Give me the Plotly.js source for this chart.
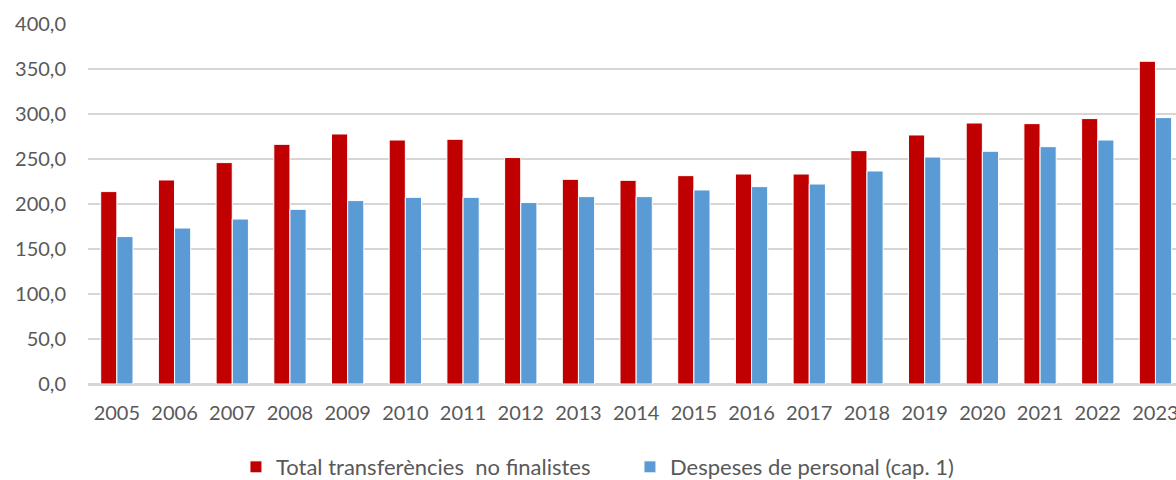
<!DOCTYPE html>
<html>
<head>
<meta charset="utf-8">
<script src="https://cdn.plot.ly/plotly-3.0.1.min.js"></script>
<style>html,body{margin:0;padding:0;background:#fff;}#chart{width:1176px;height:480px;}</style>
</head>
<body>
<div id="chart"></div>
<script>
const years = ['2005','2006','2007','2008','2009','2010','2011','2012','2013','2014','2015','2016','2017','2018','2019','2020','2021','2022','2023'];
const transferencies = [213.8, 226.7, 246.0, 266.3, 277.8, 271.1, 271.9, 251.6, 227.4, 226.3, 231.5, 233.3, 233.3, 259.3, 276.7, 290.0, 289.3, 294.9, 358.6];
const personal = [163.8, 173.3, 183.3, 194.1, 203.8, 207.4, 207.4, 201.6, 208.2, 208.2, 215.6, 219.3, 222.2, 236.7, 252.2, 258.6, 263.7, 271.1, 296.0];
const seriesNames = ['Total transferències  no finalistes', 'Despeses de personal (cap. 1)'];
const yTicks = [0, 50, 100, 150, 200, 250, 300, 350, 400];

const font = 'Lato, Open Sans, sans-serif';
const textColor = '#595959';

const data = [
  {type: 'bar', x: years, y: transferencies, name: seriesNames[0],
   marker: {color: '#C00000', line: {color: '#ffffff', width: 1}}, hoverinfo: 'x+y'},
  {type: 'bar', x: years, y: personal, name: seriesNames[1],
   marker: {color: '#5B9BD5', line: {color: '#ffffff', width: 1}}, hoverinfo: 'x+y'}
];

const layout = {
  width: 1176, height: 480,
  margin: {l: 88, r: 0, t: 23.5, b: 96.3, pad: 0, autoexpand: false},
  paper_bgcolor: '#ffffff', plot_bgcolor: '#ffffff',
  separators: ',.',
  barmode: 'group', bargap: 0.44, bargroupgap: 0,
  font: {family: font, color: textColor, size: 20},
  showlegend: true,
  legend: {orientation: 'h', x: 0.136, xanchor: 'left', xref: 'paper',
           y: 0.027, yanchor: 'middle', yref: 'container',
           font: {family: font, size: 22, color: textColor},
           entrywidth: 349, entrywidthmode: 'pixels', traceorder: 'normal',
           itemclick: false},
  xaxis: {type: 'category', range: [-0.5, 18.356], showgrid: false, ticks: '',
          showline: true, linecolor: '#D6D6D6', linewidth: 1.5,
          tickfont: {family: font, size: 20, color: textColor},
          ticklabelstandoff: 10, fixedrange: true, automargin: false},
  yaxis: {range: [0, 400], tickvals: yTicks, tickformat: '.1f', ticks: '',
          showgrid: true, gridcolor: '#D6D6D6', gridwidth: 1.6,
          zeroline: true, zerolinecolor: '#D6D6D6', zerolinewidth: 1.6,
          showline: false,
          tickfont: {family: font, size: 20, color: textColor},
          ticklabelstandoff: 21, fixedrange: true, automargin: false}
};

Plotly.newPlot('chart', data, layout, {displayModeBar: false, staticPlot: true});
</script>
</body>
</html>
